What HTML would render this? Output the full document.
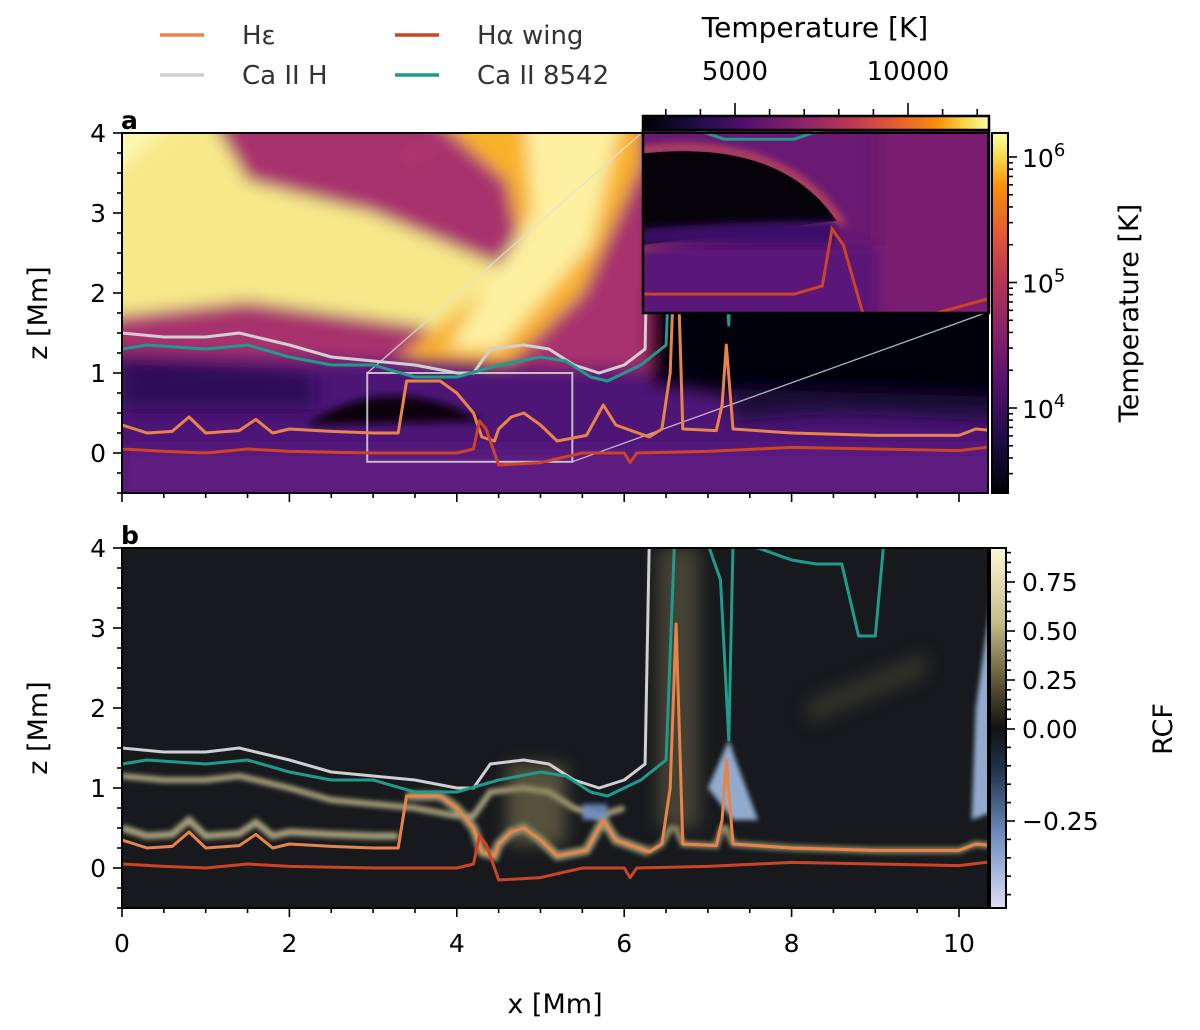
<!DOCTYPE html>
<html><head><meta charset="utf-8"><style>
html,body{margin:0;padding:0;background:#fff;}
svg{display:block;font-family:"DejaVu Sans","Liberation Sans",sans-serif;}
</style></head><body>
<svg id="fig" width="1200" height="1030" viewBox="0 0 1200 1030" xmlns="http://www.w3.org/2000/svg">
<defs>
<filter id="blur8" x="-20%" y="-20%" width="140%" height="140%"><feGaussianBlur stdDeviation="8"/></filter>
<filter id="blur4" x="-20%" y="-20%" width="140%" height="140%"><feGaussianBlur stdDeviation="4"/></filter>
<filter id="blur2"><feGaussianBlur stdDeviation="2.5"/></filter>
<clipPath id="clipA"><rect x="122" y="133" width="866" height="360"/></clipPath>
<clipPath id="clipB"><rect x="122" y="548" width="866" height="360"/></clipPath>
<clipPath id="clipI"><rect x="644" y="131" width="344" height="181"/></clipPath>
<linearGradient id="infV" x1="0" y1="1" x2="0" y2="0">
<stop offset="0" stop-color="#000004"/><stop offset="0.15" stop-color="#1f0c48"/><stop offset="0.3" stop-color="#550f6d"/><stop offset="0.45" stop-color="#88226a"/><stop offset="0.6" stop-color="#ba3655"/><stop offset="0.72" stop-color="#e35933"/><stop offset="0.85" stop-color="#f98e09"/><stop offset="0.93" stop-color="#f6d746"/><stop offset="1" stop-color="#fcffa4"/></linearGradient>
<linearGradient id="infH" x1="0" y1="0" x2="1" y2="0">
<stop offset="0" stop-color="#000004"/><stop offset="0.15" stop-color="#1f0c48"/><stop offset="0.3" stop-color="#550f6d"/><stop offset="0.45" stop-color="#88226a"/><stop offset="0.6" stop-color="#ba3655"/><stop offset="0.72" stop-color="#e35933"/><stop offset="0.85" stop-color="#f98e09"/><stop offset="0.93" stop-color="#f6d746"/><stop offset="1" stop-color="#fcffa4"/></linearGradient>
<linearGradient id="rcfV" x1="0" y1="0" x2="0" y2="1">
<stop offset="0" stop-color="#fbf7d8"/><stop offset="0.2" stop-color="#c9bd8a"/><stop offset="0.38" stop-color="#5a5232"/><stop offset="0.5" stop-color="#111214"/><stop offset="0.62" stop-color="#22344e"/><stop offset="0.8" stop-color="#6f8fc0"/><stop offset="1" stop-color="#dfe0f5"/></linearGradient>
</defs>
<g id="root"></g>
</svg>
<script>
// ---- data (x in Mm, z in Mm) ----
const heX=[0,0.3,0.6,0.8,1.0,1.4,1.6,1.8,2.0,2.5,3.0,3.3,3.4,3.8,4.0,4.2,4.3,4.45,4.5,4.65,4.8,5.0,5.2,5.55,5.75,5.9,6.3,6.45,6.55,6.62,6.7,7.1,7.17,7.22,7.3,8.0,9.0,10.0,10.2,10.4];
const heZ=[0.35,0.25,0.27,0.45,0.25,0.28,0.42,0.25,0.3,0.27,0.25,0.25,0.9,0.9,0.75,0.5,0.2,0.15,0.3,0.45,0.5,0.35,0.15,0.22,0.6,0.35,0.2,0.3,1.0,3.05,0.3,0.28,0.6,1.35,0.3,0.25,0.22,0.22,0.3,0.28];
const haX=[0,0.5,1.0,1.5,2.0,3.0,4.0,4.2,4.27,4.35,4.5,5.0,5.5,6.0,6.07,6.15,7.0,8.0,9.0,10.0,10.4];
const haZ=[0.05,0.02,0.0,0.05,0.02,0.0,0.0,0.05,0.4,0.3,-0.15,-0.12,0.0,0.0,-0.12,0.0,0.02,0.07,0.05,0.03,0.08];
const chX=[0,0.5,1.0,1.4,2.0,2.5,3.0,3.5,4.0,4.2,4.4,4.8,5.1,5.4,5.7,6.0,6.25,6.3,6.33];
const chZ=[1.5,1.45,1.45,1.5,1.35,1.2,1.15,1.1,1.0,1.0,1.3,1.35,1.3,1.1,1.0,1.1,1.3,4.1,4.1];
const c8X=[0,0.3,1.0,1.5,2.0,2.5,3.0,3.5,4.0,4.5,5.0,5.3,5.6,5.8,6.2,6.5,6.6,7.0,7.15,7.25,7.3,7.6,8.0,8.3,8.6,8.8,9.0,9.1,10.4];
const c8Z=[1.3,1.35,1.3,1.35,1.2,1.1,1.1,0.95,0.95,1.1,1.2,1.15,0.95,0.9,1.1,1.35,4.05,4.05,3.6,1.6,4.05,4.0,3.85,3.8,3.8,2.9,2.9,4.05,4.05];
const xTicks=[0,2,4,6,8,10];
const zTicks=[0,1,2,3,4];
const tempTicks=[4,5,6];
const rcfTicks=[0.75,0.5,0.25,0.0,-0.25];
const topTicks=[5000,10000];

const NS="http://www.w3.org/2000/svg";
const root=document.getElementById('root');
function el(tag,attrs,parent){const e=document.createElementNS(NS,tag);for(const k in attrs)e.setAttribute(k,attrs[k]);(parent||root).appendChild(e);return e;}
const X=x=>122+x*83.7;
const Ya=z=>453-z*80;
const Yb=z=>868-z*80;
const Xi=x=>644+(x-2.93)*140.4;
const Yi=z=>312-(z+0.11)*163;
function pathD(xs,zs,fx,fy){return xs.map((x,i)=>(i?'L':'M')+fx(x).toFixed(1)+','+fy(zs[i]).toFixed(1)).join('');}
function poly(pts,fx,fy){return pts.map((p,i)=>(i?'L':'M')+fx(p[0]).toFixed(1)+','+fy(p[1]).toFixed(1)).join('')+'Z';}

// ---- panel a background ----
const ga=el('g',{'clip-path':'url(#clipA)'});


el('rect',{x:122,y:133,width:866,height:360,fill:'#4c1576'},ga);
const gab=el('g',{filter:'url(#blur8)'},ga);
el('path',{d:poly([[0,-0.6],[10.5,-0.6],[10.5,0.05],[0,0.05]],X,Ya),fill:'#5e1a80'},gab);
el('path',{d:poly([[-0.2,1.25],[6.5,1.0],[6.5,4.3],[-0.2,4.3]],X,Ya),fill:'#a8336d'},gab);
el('path',{d:poly([[-0.2,1.7],[1.5,1.9],[3.5,1.6],[4.6,1.2],[4.6,2.3],[3.0,3.0],[1.5,3.4],[1.0,4.3],[-0.2,4.3]],X,Ya),fill:'#f7e98a'},gab);
el('path',{d:poly([[-0.2,3.4],[0.8,4.3],[-0.2,4.3]],X,Ya),fill:'#fcf7b0'},gab);
el('path',{d:poly([[3.3,1.2],[4.6,1.1],[5.5,2.0],[6.2,3.6],[6.2,4.3],[3.6,4.3],[4.6,3.4],[4.8,2.4]],X,Ya),fill:'#f9b12a'},gab);
el('path',{d:poly([[3.9,1.3],[4.5,1.3],[5.6,2.6],[6.0,4.3],[4.8,4.3],[4.9,3.0]],X,Ya),fill:'#fcf0a0'},gab);
el('path',{d:poly([[3.4,3.8],[3.9,3.9],[3.4,3.6]],X,Ya),fill:'#b03a6a'},gab);
el('path',{d:poly([[0,1.2],[1.5,1.1],[2.3,1.0],[2.3,0.55],[0,0.55]],X,Ya),fill:'#2e0f58'},gab);
el('path',{d:poly([[6.3,0.9],[7.5,0.7],[10.5,0.5],[10.5,2.2],[6.3,2.2]],X,Ya),fill:'#030207'},gab);
el('path',{d:poly([[7.3,0.4],[8.5,0.5],[10.5,0.4],[10.5,0.7],[7.3,0.8]],X,Ya),fill:'#1d0b3a'},gab);
el('path',{d:poly([[6.3,2.2],[10.5,2.2],[10.5,4.3],[6.3,4.3]],X,Ya),fill:'#4a1470'},gab);
el('path',{d:'M'+X(2.2)+','+Ya(0.35)+' Q'+X(3.2)+','+Ya(1.05)+' '+X(4.3)+','+Ya(0.4)+' Z',fill:'#07030d',filter:'url(#blur4)'},ga);

// zoom rect and connector lines
el('rect',{x:X(2.93),y:Ya(1.0),width:X(5.38)-X(2.93),height:Ya(-0.11)-Ya(1.0),fill:'none',stroke:'#d8d8d8','stroke-width':2,opacity:0.85},ga);
el('line',{x1:X(2.93),y1:Ya(1.0),x2:644,y2:131,stroke:'#e0e0e0','stroke-width':1.3,opacity:0.8},ga);
el('line',{x1:X(5.38),y1:Ya(-0.11),x2:988,y2:312,stroke:'#e0e0e0','stroke-width':1.3,opacity:0.8},ga);

// ---- panel b background ----
const gb=el('g',{'clip-path':'url(#clipB)'});


el('rect',{x:122,y:548,width:866,height:360,fill:'#17191d'},gb);
const glow=el('g',{filter:'url(#blur2)',opacity:0.7},gb);
el('path',{d:pathD(chX.slice(0,16),chZ.slice(0,16).map(z=>z-0.35),X,Yb),fill:'none',stroke:'#e6dca4','stroke-width':6},glow);
el('path',{d:pathD(heX.slice(0,12),heZ.slice(0,12).map(z=>z+0.15),X,Yb),fill:'none',stroke:'#e6dca4','stroke-width':7},glow);
el('path',{d:pathD(heX.slice(12,27),heZ.slice(12,27),X,Yb),fill:'none',stroke:'#d9cf98','stroke-width':9},glow);
el('path',{d:pathD(heX.slice(26),heZ.slice(26).map(z=>Math.min(z,0.5)),X,Yb),fill:'none',stroke:'#c9bf88','stroke-width':6},glow);
const gl2=el('g',{filter:'url(#blur8)',opacity:0.55},gb);
el('path',{d:poly([[4.6,0.3],[5.3,0.3],[5.3,1.3],[4.6,1.3]],X,Yb),fill:'#8a8058'},gl2);
el('path',{d:poly([[6.4,0.5],[6.9,0.5],[6.9,4],[6.4,4]],X,Yb),fill:'#6a6448'},gl2);
el('path',{d:poly([[8.2,1.8],[9.6,2.4],[9.6,2.7],[8.2,2.1]],X,Yb),fill:'#4a4534'},gl2);
const bl=el('g',{filter:'url(#blur2)',opacity:0.85},gb);
el('path',{d:poly([[7.0,1.0],[7.25,1.6],[7.35,1.3],[7.6,0.6],[7.3,0.6]],X,Yb),fill:'#a8c4ec'},bl);
el('path',{d:poly([[10.15,0.6],[10.4,0.7],[10.4,3.5],[10.2,2.0]],X,Yb),fill:'#a8c4ec'},bl);
el('path',{d:poly([[5.5,0.8],[5.8,0.8],[5.8,0.6],[5.5,0.6]],X,Yb),fill:'#7090c8'},bl);

// ---- series lines ----
const series=[
 {n:'h-epsilon',xs:heX,zs:heZ,c:'#e8844a'},
 {n:'h-alpha-wing',xs:haX,zs:haZ,c:'#cc4426'},
 {n:'ca-ii-h',xs:chX,zs:chZ,c:'#cfcfd4'},
 {n:'ca-ii-8542',xs:c8X,zs:c8Z,c:'#1f9a8c'}];
for(const s of series){
  const pa=el('path',{d:pathD(s.xs,s.zs,X,Ya),fill:'none',stroke:s.c,'stroke-width':3,'stroke-linejoin':'round','clip-path':'url(#clipA)'});
  
  
  const pb=el('path',{d:pathD(s.xs,s.zs,X,Yb),fill:'none',stroke:s.c,'stroke-width':3,'stroke-linejoin':'round','clip-path':'url(#clipB)'});
  
  
}

// ---- inset ----
const gi=el('g',{'clip-path':'url(#clipI)'});


el('rect',{x:644,y:131,width:344,height:181,fill:'#6a1a72'},gi);
const gib=el('g',{filter:'url(#blur8)'},gi);
el('path',{d:poly([[2.9,-0.2],[5.5,-0.2],[5.5,0.3],[2.9,0.3]],Xi,Yi),fill:'#5a1878'},gib);
el('path',{d:poly([[4.6,-0.2],[5.5,-0.2],[5.5,1.1],[4.6,1.1]],Xi,Yi),fill:'#7a1f70'},gib);
el('path',{d:'M'+Xi(2.9)+','+Yi(0.3)+' L'+Xi(2.9)+','+Yi(0.88)+' Q'+Xi(3.9)+','+Yi(0.98)+' '+Xi(4.32)+','+Yi(0.45)+' Z',fill:'none',stroke:'#c04a5a','stroke-width':8,filter:'url(#blur4)'},gi);
el('path',{d:'M'+Xi(2.9)+','+Yi(0.3)+' L'+Xi(2.9)+','+Yi(0.86)+' Q'+Xi(3.9)+','+Yi(0.96)+' '+Xi(4.3)+','+Yi(0.45)+' Z',fill:'#050309'},gi);
el('path',{d:'M'+Xi(2.9)+','+Yi(0.4)+' Q'+Xi(3.6)+','+Yi(0.45)+' '+Xi(4.3)+','+Yi(0.45)+' L'+Xi(4.3)+','+Yi(0.3)+' L'+Xi(2.9)+','+Yi(0.3)+'Z',fill:'#3a1168',filter:'url(#blur4)'},gi);
el('path',{d:pathD(haX,haZ,Xi,Yi),fill:'none',stroke:'#cc4426','stroke-width':3},gi);
el('path',{d:pathD(c8X,c8Z,Xi,Yi),fill:'none',stroke:'#1f9a8c','stroke-width':3},gi);
el('rect',{x:643,y:130,width:346,height:183,fill:'none',stroke:'#000','stroke-width':2.5});
// inset colorbar
const icb=el('rect',{x:643,y:116,width:346,height:14,fill:'url(#infH)',stroke:'#000','stroke-width':2.5});


const TX=t=>735+(t-5000)*(908-735)/5000;
for(let t=3000;t<=12500;t+=1000){const maj=t%5000===0;el('line',{x1:TX(t),y1:115,x2:TX(t),y2:maj?103:109,stroke:'#000','stroke-width':1.6});}
for(const t of topTicks){const tx=el('text',{x:TX(t),y:80,'font-size':26,'text-anchor':'middle',fill:'#000'});tx.textContent=String(t);
 }
const tt=el('text',{x:815,y:37,'font-size':28,'text-anchor':'middle',fill:'#000'});tt.textContent='Temperature [K]';


// ---- axes frames and ticks ----
function axes(top,Y,label,letter){
  el('rect',{x:122,y:top,width:866,height:360,fill:'none',stroke:'#000','stroke-width':2});
  for(let x=0;x<=10.4;x+=0.5){const maj=Math.abs(x/2-Math.round(x/2))<1e-6;el('line',{x1:X(x),y1:top+360,x2:X(x),y2:top+360+(maj?9:5),stroke:'#000','stroke-width':1.6});}
  for(let z=-0.5;z<=4.001;z+=0.25){const maj=Math.abs(z-Math.round(z))<1e-6;el('line',{x1:122,y1:Y(z),x2:122-(maj?9:5),y2:Y(z),stroke:'#000','stroke-width':1.6});}
  for(const z of zTicks){const t=el('text',{x:106,y:Y(z)+9,'font-size':25,'text-anchor':'end',fill:'#000'});t.textContent=String(z);
    }
  const yl=el('text',{x:0,y:0,'font-size':27,'text-anchor':'middle',fill:'#000',transform:'translate(47,'+(top+180)+') rotate(-90)'});yl.textContent=label;
  
  const lt=el('text',{x:121,y:top-4,'font-size':25,'font-weight':'bold',fill:'#000'});lt.textContent=letter;
  
}
axes(133,Ya,'z [Mm]','a');
axes(548,Yb,'z [Mm]','b');
for(const x of xTicks){const t=el('text',{x:X(x),y:952,'font-size':25,'text-anchor':'middle',fill:'#000'});t.textContent=String(x);
  }
const xl=el('text',{x:555,y:1013,'font-size':27,'text-anchor':'middle',fill:'#000'});xl.textContent='x [Mm]';


// ---- colorbar a (log temperature) ----
const cbA=el('rect',{x:992,y:133,width:16,height:360,fill:'url(#infV)',stroke:'#000','stroke-width':2});

const LY=l=>408-(l-4)*125.5;
for(let d=3;d<=6;d++){for(let m=1;m<=9;m++){const l=d+Math.log10(m);const y=LY(l);if(y<134||y>492)continue;
  el('line',{x1:1008,y1:y,x2:1008+(m===1?9:5),y2:y,stroke:'#000','stroke-width':1.6});}}
for(const e of tempTicks){const t=el('text',{x:1022,y:LY(e)+10,'font-size':25,fill:'#000'});t.textContent='10';
  const s=el('tspan',{dy:-11,'font-size':18},t);s.textContent=String(e);
  }
const ct=el('text',{x:0,y:0,'font-size':27,'text-anchor':'middle',fill:'#000',transform:'translate(1138,313) rotate(-90)'});ct.textContent='Temperature [K]';


// ---- colorbar b (RCF) ----
const cbB=el('rect',{x:990,y:548,width:16,height:360,fill:'url(#rcfV)',stroke:'#000','stroke-width':2});

const RY=v=>v>=0?729-v*196:729-v*368;
for(let v=-0.45;v<=0.91;v+=0.05){const r=Math.round(v*100);const maj=r%25===0;el('line',{x1:1006,y1:RY(v),x2:1006+(maj?9:5),y2:RY(v),stroke:'#000','stroke-width':1.6});}
for(const v of rcfTicks){const t=el('text',{x:1022,y:RY(v)+9,'font-size':25,fill:'#000'});t.textContent=(v<0?'\u2212':'')+Math.abs(v).toFixed(2);
  }
const rt=el('text',{x:0,y:0,'font-size':27,'text-anchor':'middle',fill:'#000',transform:'translate(1172,729) rotate(-90)'});rt.textContent='RCF';


// ---- legend ----
const leg=[['H\u03b5','#e8844a',160,35],['Ca II H','#cfcfd4',160,75],['H\u03b1 wing','#cc4426',395,35],['Ca II 8542','#1f9a8c',395,75]];
for(const [lab,c,x,y] of leg){
  const g=el('g',{});
  
  
  el('line',{x1:x,y1:y,x2:x+44,y2:y,stroke:c,'stroke-width':3.5},g);
  const t=el('text',{x:x+82,y:y+9,'font-size':26,fill:'#333'},g);t.textContent=lab;
}
</script>
</body></html>
